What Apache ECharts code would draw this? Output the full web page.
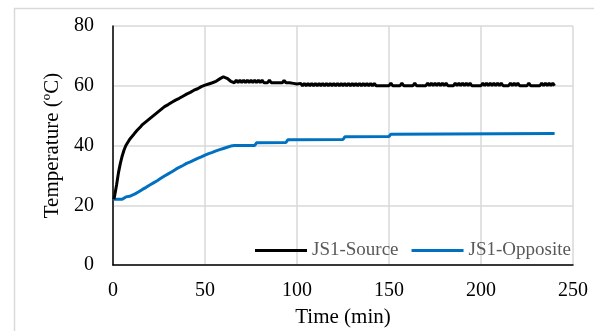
<!DOCTYPE html>
<html>
<head>
<meta charset="utf-8">
<script src="https://cdn.jsdelivr.net/npm/echarts@6/dist/echarts.min.js"></script>
<style>html,body{margin:0;padding:0;background:#fff}#c{width:594px;height:331px}</style>
</head>
<body>
<div id="c"></div>
<script>
const seriesNames = ['JS1-Source', 'JS1-Opposite'];
const xTicks = [0, 50, 100, 150, 200, 250];
const yTicks = [0, 20, 40, 60, 80];

const source = [
[0.5,22],[1,23.5],[2,27],[3,31],[4,34],[5,36.5],[6,38.5],[7,40],[8,41],[9,42],[10,42.8],[11,43.5],[12,44.3],[13,45],[14,45.6],[15,46.3],[16,47],[17,47.5],[18,48],[19,48.5],[20,49],[21,49.5],[22,50],[24,51],[26,52],[28,53],[30,53.7],[32,54.5],[34,55.2],[36,55.8],[38,56.5],[40,57.2],[42,57.8],[44,58.5],[46,59],[48,59.7],[50,60.2],[52,60.6],[54,61],[56,61.5],[58,62.3],[59,62.8],[60,63],[61,63],[62,62.5],[63,62],[64,61.5],
[65,61.9],[66,61],[67,61.9],[68,61],[69,61.9],[70,61],[71,61.9],[72,61],[73,61.9],[74,61],[75,61.9],[76,61],[77,61.9],[78,61],[79,61.9],[80,61],[81,61.9],[82,61],[84,61],[85,61.9],[86,61],[88,61],[90,61],[92,61],[93,61.8],[94,61],[96,61],[98,60.8],[100,60.6],
[101,60],[102,60.8],[103,60],[104,60.8],[105,60],[106,60.8],[107,60],[108,60.8],[109,60],[110,60.8],[111,60],[112,60.8],[113,60],[114,60.8],[115,60],[116,60.8],[117,60],[118,60.8],[119,60],[120,60.8],[121,60],[122,60.8],[123,60],[124,60.8],[125,60],[126,60.8],[127,60],[128,60.8],[129,60],[130,60.8],[131,60],[132,60.8],[133,60],[134,60.8],[135,60],[136,60.8],[137,60],[138,60.8],[139,60],[140,60.8],[141,60],[142,60.8],[143,60],[146,60],[150,60],[151,60.9],[152,60],[156,60],[157,60.9],[158,60],[163,60],[164,60.9],[165,60],[170,60],[171,60.9],[172,60],[173,60.9],[174,60],[175,60.9],[176,60],[177,60.9],[178,60],[179,60.9],[180,60],[181,60.9],[182,60],[185,60],[186,60.9],[187,60],[188,60.9],[189,60],[190,60.9],[191,60],[192,60.9],[193,60],[194,60.9],[195,60],[200,60],[201,60.9],[202,60],[203,60.9],[204,60],[205,60.9],[206,60],[207,60.9],[208,60],[209,60.9],[210,60],[211,60.9],[212,60],[215,60],[216,60.9],[217,60],[218,60.9],[219,60],[220,60.9],[221,60],[225,60],[226,60.9],[227,60],[232,60],[233,60.9],[234,60],[235,60.9],[236,60],[237,60.9],[238,60],[239,60.9],[240,60]
];

const opposite = [
[0,22],[5,22],[6,22.3],[7,22.8],[9,23],[10,23.3],[12,23.8],[14,24.5],[16,25.3],[18,26],[20,26.8],[22,27.5],[24,28.2],[26,29],[28,29.8],[30,30.5],[32,31.2],[34,32],[36,32.7],[38,33.3],[40,34],[42,34.5],[44,35.1],[46,35.7],[48,36.2],[50,36.8],[52,37.3],[54,37.7],[56,38.2],[58,38.6],[60,39],[62,39.4],[64,39.8],[66,40],[77,40],[78,40.9],[94,41],[95,41.9],[125,42],[126,42.9],[150,43],[151,43.8],[240,44]
];

const font = 'Liberation Serif';
const chart = echarts.init(document.getElementById('c'), null, {renderer: 'canvas'});
chart.setOption({
  animation: false,
  backgroundColor: '#fff',
  graphic: [{
    type: 'rect', left: 12, top: 6, silent: true,
    shape: {width: 700, height: 500},
    style: {fill: 'none', stroke: '#d9d9d9', lineWidth: 1.5}
  }],
  grid: {left: 113, right: 21, top: 26, bottom: 66, containLabel: false, outerBoundsMode: 'none'},
  legend: {
    left: 255, top: 241, padding: 0, icon: 'rect',
    itemWidth: 52, itemHeight: 3, itemGap: 13,
    textStyle: {fontFamily: font, fontSize: 19, color: '#595959'},
    data: seriesNames
  },
  xAxis: {
    type: 'value', min: xTicks[0], max: xTicks[xTicks.length - 1], interval: 50,
    name: 'Time (min)', nameLocation: 'middle', nameGap: 42,
    nameTextStyle: {fontFamily: font, fontSize: 21, color: '#000'},
    axisLine: {show: true, lineStyle: {color: '#000', width: 1.5}},
    axisTick: {show: false},
    axisLabel: {fontFamily: font, fontSize: 20, color: '#000', margin: 16},
    splitLine: {show: true, lineStyle: {color: '#d9d9d9', width: 1.5}}
  },
  yAxis: {
    type: 'value', min: yTicks[0], max: yTicks[yTicks.length - 1], interval: 20,
    name: 'Temperature (ºC)', nameLocation: 'middle', nameGap: 47, nameRotate: 90,
    nameTextStyle: {fontFamily: font, fontSize: 21, color: '#000'},
    axisLine: {show: true, lineStyle: {color: '#000', width: 1.5}},
    axisTick: {show: false},
    axisLabel: {fontFamily: font, fontSize: 20, color: '#000', margin: 19},
    splitLine: {show: true, lineStyle: {color: '#d9d9d9', width: 1.5}}
  },
  series: [
    {name: seriesNames[0], type: 'line', data: source, symbol: 'none', showSymbol: false, smooth: false,
     lineStyle: {color: '#000', width: 3}, itemStyle: {color: '#000'}, z: 3},
    {name: seriesNames[1], type: 'line', data: opposite, symbol: 'none', showSymbol: false, smooth: false,
     lineStyle: {color: '#0070C0', width: 3}, itemStyle: {color: '#0070C0'}, z: 2}
  ]
});
</script>
</body>
</html>
